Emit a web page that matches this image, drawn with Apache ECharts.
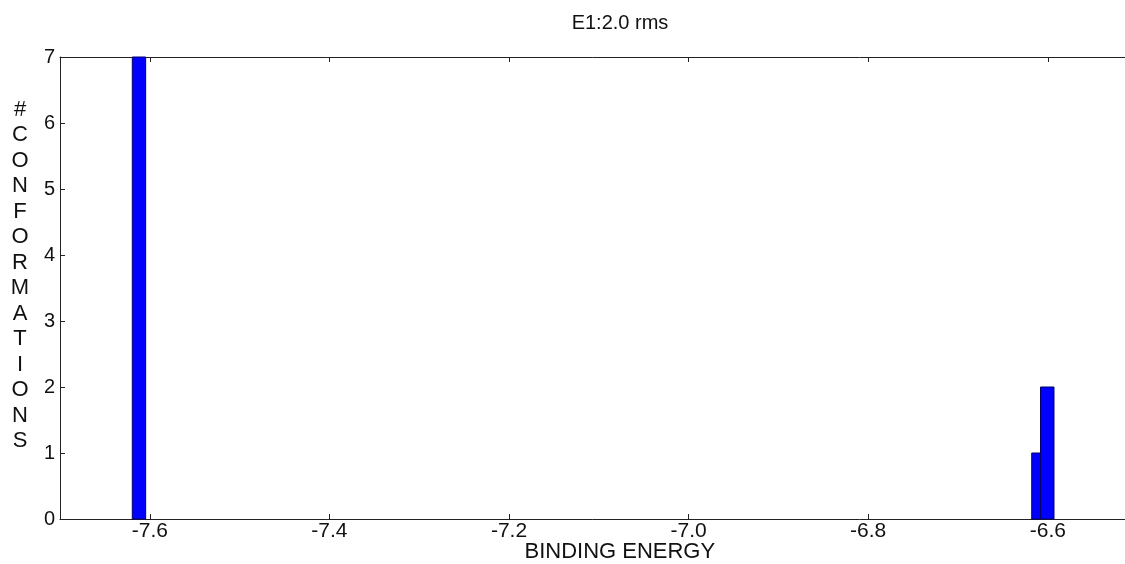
<!DOCTYPE html>
<html>
<head>
<meta charset="utf-8">
<script src="https://cdn.jsdelivr.net/npm/echarts@6/dist/echarts.min.js"></script>
<style>
  html, body { margin: 0; padding: 0; background: #fff; }
  #chart { width: 1125px; height: 564px; }
</style>
</head>
<body>
<div id="chart"></div>
<script>
// histogram bins (binding energy edges) and counts
const binLeft = [-7.6195, -6.6179, -6.6081];
const binRight = [-7.6046, -6.6081, -6.5931];
const counts = [7, 1, 2];
const xTicks = [-7.6, -7.4, -7.2, -7.0, -6.8, -6.6];
const yTicks = [0, 1, 2, 3, 4, 5, 6, 7];

const chart = echarts.init(document.getElementById('chart'));

const font = 'Liberation Sans, Arial, sans-serif';
const axisColor = '#222';

const option = {
  animation: false,
  backgroundColor: '#fff',
  grid: {
    left: 60,
    top: 57,
    width: 1077.6,
    height: 462,
    containLabel: false,
    outerBoundsMode: 'none'
  },
  graphic: [
    {
      type: 'text',
      x: 620,
      y: 13,
      style: {
        text: 'E1:2.0 rms',
        font: '20px ' + font,
        fill: '#111',
        textAlign: 'center'
      }
    },
    {
      type: 'text',
      x: 20,
      y: 97,
      style: {
        text: '#CONFORMATIONS'.split('').join('\n'),
        font: '22px ' + font,
        lineHeight: 25.5,
        fill: '#111',
        textAlign: 'center'
      }
    }
  ],
  xAxis: [
    {
      type: 'value',
      min: -7.7,
      max: -6.5,
      interval: 0.1,
      position: 'bottom',
      name: 'BINDING ENERGY',
      nameLocation: 'middle',
      nameGap: 22,
      nameMoveOverlap: false,
      nameTextStyle: { fontFamily: font, fontSize: 22, color: '#111', padding: [0, 0, 0, 42] },
      axisLine: { show: true, lineStyle: { color: axisColor, width: 1 } },
      axisTick: {
        show: true, inside: true, length: 5,
        lineStyle: { color: axisColor },
        customValues: xTicks
      },
      axisLabel: {
        fontFamily: font, fontSize: 21, color: '#111', margin: 2,
        customValues: xTicks,
        formatter: v => v.toFixed(1)
      },
      splitLine: { show: false }
    },
    {
      type: 'value',
      min: -7.7,
      max: -6.5,
      position: 'top',
      axisLine: { show: true, lineStyle: { color: axisColor, width: 1 } },
      axisTick: {
        show: true, inside: true, length: 5,
        lineStyle: { color: axisColor },
        customValues: xTicks
      },
      axisLabel: { show: false },
      splitLine: { show: false }
    }
  ],
  yAxis: {
    type: 'value',
    min: 0,
    max: 7,
    interval: 1,
    axisLine: { show: true, lineStyle: { color: axisColor, width: 1 } },
    axisTick: { show: true, inside: true, length: 5, lineStyle: { color: axisColor } },
    axisLabel: { fontFamily: font, fontSize: 20, color: '#111', margin: 5 },
    splitLine: { show: false }
  },
  series: [
    {
      type: 'custom',
      xAxisIndex: 0,
      data: counts.map((c, i) => [binLeft[i], binRight[i], c]),
      renderItem: (params, api) => {
        const p0 = api.coord([api.value(0), 0]);
        const p1 = api.coord([api.value(1), api.value(2)]);
        return {
          type: 'rect',
          shape: { x: p0[0], y: p1[1], width: p1[0] - p0[0], height: p0[1] - p1[1] },
          style: { fill: '#0000ff', stroke: '#000066', lineWidth: 1 }
        };
      }
    }
  ]
};

chart.setOption(option);
</script>
</body>
</html>
